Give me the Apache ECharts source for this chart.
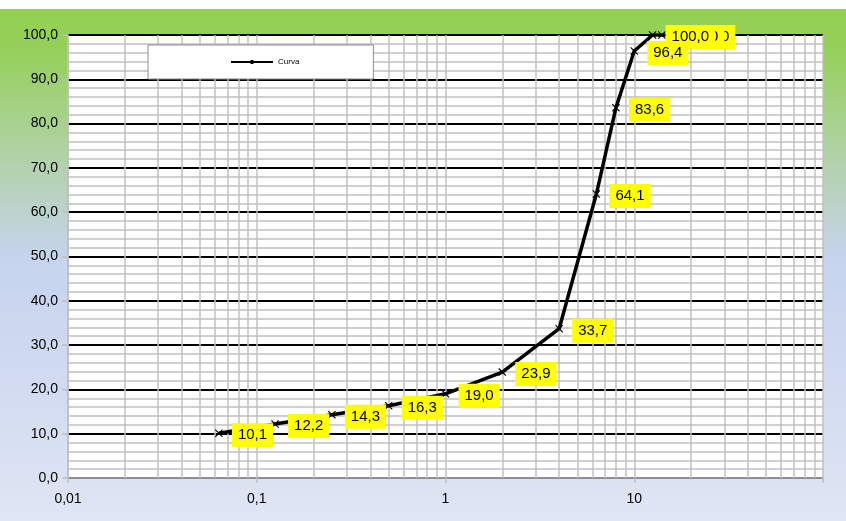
<!DOCTYPE html>
<html>
<head>
<meta charset="utf-8">
<script src="https://cdn.jsdelivr.net/npm/echarts@6/dist/echarts.min.js"></script>
<style>
html,body{margin:0;padding:0;background:#fff;}
#c{width:846px;height:521px;background:linear-gradient(to bottom,#ffffff 0px,#ffffff 9px,#92d050 9px,#95d05a 50px,#b4d2b0 170px,#c6d4ee 260px,#d3dcf1 400px,#dfe6f4 521px);}
</style>
</head>
<body>
<div id="c"></div>
<script>
// Sieve sizes (mm) and cumulative passing (%), largest first
const sizes = [16, 14, 12.5, 10, 8, 6.3, 4, 2, 1, 0.5, 0.25, 0.125, 0.063];
const passing = [100.0, 100.0, 100.0, 96.4, 83.6, 64.1, 33.7, 23.9, 19.0, 16.3, 14.3, 12.2, 10.1];
const seriesName = 'Curva';
const xTickLabels = {0.01: '0,01', 0.1: '0,1', 1: '1', 10: '10', 100: ''};

const chart = echarts.init(document.getElementById('c'));

// minor vertical gridlines at 2..9 x each decade
const vLines = [];
[0.01, 0.1, 1, 10].forEach(d => { for (let k = 2; k <= 9; k++) vLines.push({xAxis: +(d * k).toPrecision(6)}); });

const fmt = v => v.toFixed(1).replace('.', ',');

chart.setOption({
  animation: false,
  textStyle: {fontFamily: 'Liberation Sans, Arial, sans-serif'},
  grid: {left: 68, right: 23, top: 35, bottom: 43, show: true, backgroundColor: '#ffffff', borderWidth: 0},
  legend: {
    left: 148, top: 45,
    padding: [13, 74, 13, 83],
    backgroundColor: '#ffffff', borderColor: '#8c8c8c', borderWidth: 1,
    itemWidth: 42, itemHeight: 8, itemGap: 5,
    textStyle: {fontSize: 8, color: '#000'},
    data: [{name: seriesName, icon: 'path://M0,3L42,3L42,5L0,5Z M19.5,2L22.5,2L22.5,6L19.5,6Z'}]
  },
  xAxis: {
    type: 'log', logBase: 10, min: 0.01, max: 100,
    axisLine: {show: true, lineStyle: {color: '#bfbfbf', width: 1.5}},
    axisTick: {show: true, length: 5, lineStyle: {color: '#bfbfbf', width: 1.5}},
    splitLine: {show: true, lineStyle: {color: '#c0c0c0', width: 1.5}},
    axisLabel: {
      margin: 14, fontSize: 14, color: '#000',
      formatter: v => { const r = +(+v).toPrecision(6); return xTickLabels[r] !== undefined ? xTickLabels[r] : String(r).replace('.', ','); }
    }
  },
  yAxis: {
    type: 'value', min: 0, max: 100, interval: 10,
    axisLine: {show: true, lineStyle: {color: '#bfbfbf', width: 1.5}},
    axisTick: {show: true, length: 6, lineStyle: {color: '#bfbfbf', width: 1.5}},
    splitLine: {show: true, lineStyle: {color: '#000', width: 2}},
    minorTick: {show: false, splitNumber: 5},
    minorSplitLine: {show: true, lineStyle: {color: '#c0c0c0', width: 1.5}},
    axisLabel: {margin: 10, fontSize: 14, color: '#000', formatter: v => fmt(v)}
  },
  series: [
    {
      type: 'line', name: 'grid', data: [], silent: true, z: 1,
      markLine: {
        z: 1, zlevel: 0,
        silent: true, symbol: 'none', animation: false,
        label: {show: false},
        lineStyle: {color: '#c0c0c0', width: 1.5, type: 'solid'},
        data: vLines
      },
      tooltip: {show: false}
    },
    {
      type: 'line', name: seriesName, z: 3,
      data: sizes.map((s, i) => [s, passing[i]]),
      lineStyle: {color: '#000', width: 3.5},
      itemStyle: {color: '#000'},
      symbol: 'path://M0,1L1,0L5,4L9,0L10,1L6,5L10,9L9,10L5,6L1,10L0,9L4,5Z',
      symbolSize: 8,
      label: {
        show: true, position: 'right', distance: 9,
        backgroundColor: '#ffff00', padding: [5, 6, 4, 6],
        color: '#000', fontSize: 15,
        offset: [0, 2],
        formatter: p => fmt(p.value[1])
      }
    }
  ]
});
</script>
</body>
</html>
